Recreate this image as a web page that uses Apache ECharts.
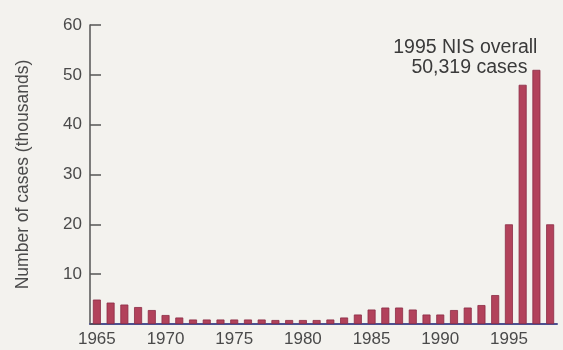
<!DOCTYPE html>
<html>
<head>
<meta charset="utf-8">
<script src="https://cdn.jsdelivr.net/npm/echarts@6/dist/echarts.min.js"></script>
<style>
html,body{margin:0;padding:0;background:#f3f2ee;}
#c{width:563px;height:350px;}
</style>
</head>
<body>
<div id="c"></div>
<script>
var years = [];
for (var y = 1965; y <= 1998; y++) years.push(String(y));
var cases = [4.9, 4.3, 3.9, 3.4, 2.8, 1.8, 1.3, 0.9, 0.9, 0.9, 0.9, 0.9, 0.9, 0.8, 0.8, 0.8, 0.8, 0.9, 1.3, 1.9,
             2.9, 3.3, 3.3, 2.9, 1.9, 1.9, 2.8, 3.3, 3.8, 5.8, 20, 48, 51, 20];
var yTicks = [0, 10, 20, 30, 40, 50, 60];
var xLabelYears = ['1965', '1970', '1975', '1980', '1985', '1990', '1995'];
var annotationLines = ['1995 NIS overall', '50,319 cases'];
var annotatedIndex = 32;

var font = 'Liberation Sans, Arial, Helvetica, sans-serif';
var seriesData = cases.map(function (v, i) {
  if (i === annotatedIndex) {
    return {
      value: v,
      label: {
        show: true,
        position: [5, 8],
        align: 'right',
        verticalAlign: 'bottom',
        formatter: '{a|' + annotationLines[0] + '}\n{b|' + annotationLines[1] + '}',
        rich: {
          a: {fontSize: 19.5, fontFamily: font, color: '#3a3a3a', lineHeight: 20, align: 'right'},
          b: {fontSize: 19.5, fontFamily: font, color: '#3a3a3a', lineHeight: 20, align: 'right', padding: [0, 10, 0, 0]}
        }
      }
    };
  }
  return v;
});

var chart = echarts.init(document.getElementById('c'));
chart.setOption({
  backgroundColor: '#f3f2ee',
  animation: false,
  grid: {left: 90, right: 6, top: 25, bottom: 26, containLabel: false},
  xAxis: {
    type: 'category',
    data: years,
    boundaryGap: true,
    axisLine: {show: true, lineStyle: {color: '#4d5190', width: 2}},
    axisTick: {show: false},
    axisLabel: {
      interval: 0,
      margin: 7,
      fontSize: 17,
      fontFamily: font,
      color: '#4a4a4a',
      formatter: function (v) { return xLabelYears.indexOf(v) >= 0 ? v : ''; }
    }
  },
  yAxis: {
    type: 'value',
    min: yTicks[0],
    max: yTicks[yTicks.length - 1],
    interval: 10,
    name: 'Number of cases (thousands)',
    nameLocation: 'middle',
    nameGap: 58,
    nameTextStyle: {fontSize: 17.5, fontFamily: font, color: '#4a4a4a'},
    axisLine: {show: true, lineStyle: {color: '#555', width: 1.5}},
    axisTick: {show: true, inside: true, length: 11, lineStyle: {color: '#555', width: 1.5}},
    splitLine: {show: false},
    axisLabel: {
      margin: 8,
      fontSize: 17,
      fontFamily: font,
      color: '#4a4a4a',
      formatter: function (v) { return v === 0 ? '' : String(v); }
    }
  },
  series: [{
    type: 'bar',
    data: seriesData,
    barWidth: 8,
    itemStyle: {color: '#b2425b', borderColor: '#8c2c45', borderWidth: 0.8}
  }]
});
</script>
</body>
</html>
